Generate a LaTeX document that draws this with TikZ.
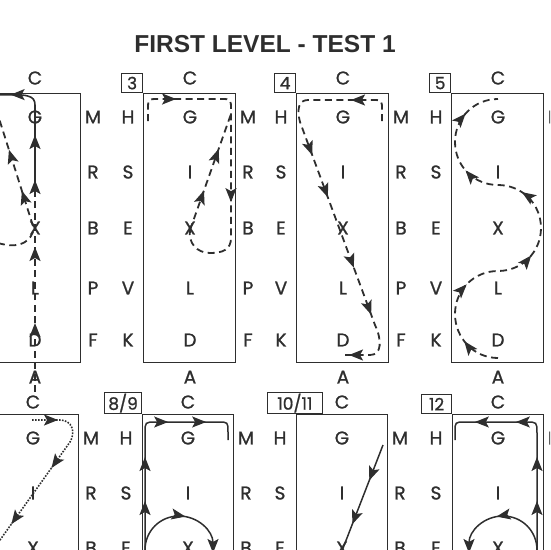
\documentclass[tikz,border=0pt]{standalone}
\usepackage{fontspec}
\setmainfont{Liberation Sans}
\newfontfamily\arenafont{Poppins}[FakeBold=1]
\usetikzlibrary{arrows.meta,decorations.markings}

\definecolor{ink}{HTML}{2E2E2E}

\begin{document}
\begin{tikzpicture}[x=1pt,y=-1pt,
    >={Stealth[length=14pt,width=11pt,inset=3pt]},
    letter/.style={font=\arenafont\fontsize{18.5}{18.5}\selectfont,text=ink,inner sep=0pt},
    numbox/.style={draw=ink,line width=0.8pt,font=\arenafont\fontsize{17}{17}\selectfont,text=ink,inner sep=1pt,minimum height=19pt},
    arena/.style={draw=ink,line width=0.9pt},
    route/.style={draw=ink,line width=1.8pt,dash pattern=on 7pt off 4.5pt},
    track/.style={draw=ink,line width=1.5pt},
    dotroute/.style={draw=ink,line width=1.6pt,dash pattern=on 1.6pt off 1.4pt},
    tipat/.style={postaction={decorate,decoration={markings,mark=at position #1pt with {\arrow{>}}}}}]

    \useasboundingbox (0,0) rectangle (550,550);
    \clip (0,0) rectangle (550,550);

    % --------------------------------------------------------- %
    % ------------- title
    % --------------------------------------------------------- %
    \node[font=\bfseries\fontsize{24.5}{24.5}\selectfont,text=ink] (titre) at (265,44) {FIRST LEVEL - TEST 1};

    % --------------------------------------------------------- %
    % ------------- arenas, upper row
    % --------------------------------------------------------- %
    \foreach \cx/\n in {35/2,190/3,343/4,498/5} {
      \draw[arena] (\cx-47,93) rectangle (\cx+45,362);
      \node[letter] (C\n) at (\cx,78) {C};
      \node[letter] (A\n) at (\cx,377) {A};
      \foreach \m/\l/\r/\y in {G/H/M/117,I/S/R/172,X/E/B/228,L/V/P/288,D/K/F/340} {
        \node[letter] (\m\n) at (\cx,\y) {\m};
        \ifnum\cx>100 \node[letter] (\l\n) at (\cx-62,\y) {\l};\fi
        \node[letter] (\r\n) at (\cx+58,\y) {\r};
      }
    }

    % --------------------------------------------------------- %
    % ------------- arenas, lower row
    % --------------------------------------------------------- %
    \foreach \cx/\n in {33/7,188/89,342/1011,498/12} {
      \draw[arena] (\cx-46,414) rectangle (\cx+45,700);
      \node[letter] (C\n) at (\cx,402) {C};
      \foreach \m/\l/\r/\y in {G/H/M/438,I/S/R/493,X/E/B/548} {
        \node[letter] (\m\n) at (\cx,\y) {\m};
        \ifnum\cx>100 \node[letter] (\l\n) at (\cx-62,\y) {\l};\fi
        \node[letter] (\r\n) at (\cx+58,\y) {\r};
      }
    }

    % ------------ movement numbers
    \node[numbox,minimum width=21pt,anchor=south east] (num3) at (143,93) {3};
    \node[numbox,minimum width=21pt,anchor=south east] (num4) at (296,93) {4};
    \node[numbox,minimum width=21pt,anchor=south east] (num5) at (451,93) {5};
    \node[numbox,minimum width=37pt,anchor=south east] (num89) at (142,414) {8/9};
    \node[numbox,minimum width=55pt,anchor=south west] (num1011) at (267,414) {10/11};
    \node[numbox,minimum width=30pt,anchor=south east] (num12) at (452,414) {12};

    % --------------------------------------------------------- %
    % ------------- routes, upper row
    % --------------------------------------------------------- %
    % A - X - C
    \draw[route,tipat=69,tipat=145] (35,392) -- (35,190);
    \draw[track,line width=1.6pt,tipat=10,tipat=55,tipat=115] (35,190) -- (35,105) .. controls (35,95) and (27,94) .. (-2,95);
    \draw[route,tipat=37,tipat=80] (33,226) -- (-3,112);
    \draw[route] (-2,243) .. controls (15,248) and (28,245) .. (33,232);

    % 3
    \draw[route,tipat=48,tipat=204] (148,121) -- (148,110) .. controls (148,99) .. (158,99) -- (221,99)
      .. controls (231,99) .. (231,110) -- (231,238) .. controls (231,250) and (222,253) .. (210,253)
      .. controls (197,253) and (188,243) .. (190,230);
    \draw[route,tipat=42,tipat=86] (190,230) -- (231,114);

    % 4
    \draw[route,tipat=50,tipat=156,tipat=201,tipat=276,tipat=326,tipat=-7] (382,121) -- (382,110)
      .. controls (382,100) .. (372,100) -- (308,100) .. controls (298,100) and (297,110) .. (300,122)
      -- (375,325) .. controls (382,340) and (382,355) .. (370,355) -- (342,355);

    % 5
    \draw[route,tipat=39,tipat=101,tipat=174,tipat=246,tipat=308,tipat=370] (498,358)
      .. controls (474,358) and (455,338) .. (455,314) .. controls (455,290) and (474,271) .. (498,271)
      .. controls (522,271) and (541,252) .. (541,228) .. controls (541,204) and (522,185) .. (498,185)
      .. controls (474,185) and (455,166) .. (455,142) .. controls (455,118) and (474,99) .. (498,99);

    % --------------------------------------------------------- %
    % ------------- routes, lower row
    % --------------------------------------------------------- %
    % 7
    \draw[dotroute,tipat=26,tipat=90,tipat=159] (32,420) -- (60,420) .. controls (72,420) and (76,432) .. (70,442) -- (-5,547);

    % 8/9
    \draw[track,tipat=59,tipat=103,tipat=159,tipat=197] (145,560) -- (145,433) .. controls (145,422) .. (156,422)
      -- (218,422) .. controls (228,422) .. (228,432) -- (228,440);
    \draw[track,->,tipat=60] (145,550) .. controls (145,531) and (160,516) .. (179,516)
      .. controls (198,516) and (213,531) .. (213,553);

    % 10/11
    \draw[track,tipat=38,tipat=85] (383,445) -- (340,556);

    % 12
    \draw[track,tipat=59,tipat=103,tipat=157,tipat=198] (537,560) -- (537,433) .. controls (537,422) .. (526,422)
      -- (465,422) .. controls (455,422) .. (455,432) -- (455,440);
    \draw[track,->,tipat=60] (537,550) .. controls (537,531) and (522,516) .. (503,516)
      .. controls (484,516) and (469,531) .. (469,553);

  \end{tikzpicture}
\end{document}
